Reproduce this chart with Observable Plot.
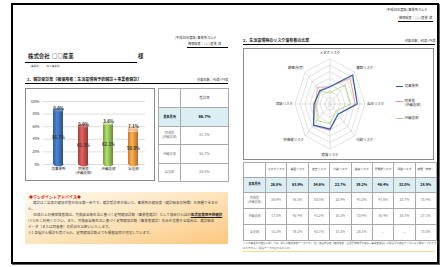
<!DOCTYPE html>
<html><head><meta charset="utf-8">
<script src="https://cdn.jsdelivr.net/npm/d3@7"></script>
<script src="https://cdn.jsdelivr.net/npm/@observablehq/plot@0.6"></script>
<style>
body{margin:0;width:440px;height:267px;position:relative;overflow:hidden;background:#fff;font-family:"Noto Sans CJK JP","Noto Sans",sans-serif;color:#222;}
.a{position:absolute;white-space:nowrap;line-height:1;}
#frame{position:absolute;left:11px;top:3px;width:424px;height:257px;border:2px solid #000;box-shadow:1px 1px 0 #666;}
table{border-collapse:collapse;position:absolute;table-layout:fixed;}
td{border:1px solid #aaa;padding:0;text-align:center;vertical-align:middle;overflow:hidden;line-height:1.25;color:#777;white-space:pre;}
tr.hl td{background:#dbeef4;color:#111;font-weight:bold;}
.box{position:absolute;border:1px solid #8a8a8a;}
.leg{position:absolute;font-size:3.5px;line-height:1.2;white-space:pre;color:#333;}
.legline{position:absolute;height:0;}
</style></head><body>
<div id="frame"></div>

<!-- right page header -->
<div class="a" style="left:386px;top:8px;font-size:3.2px;color:#333">[平成30年度版]&nbsp;事業所カルテ</div>
<div class="a" style="left:399px;top:16.2px;font-size:3.2px;color:#333">被保険者：○○産業&nbsp;&nbsp;様</div>
<div class="a" style="left:398px;top:20.5px;width:35px;border-top:0.8px solid #000"></div>

<!-- left page header -->
<div class="a" style="left:175px;top:36px;font-size:3.2px;color:#333">[平成30年度版]&nbsp;事業所カルテ</div>
<div class="a" style="left:188px;top:42.4px;font-size:3.2px;color:#333">被保険者：○○産業&nbsp;&nbsp;様</div>
<div class="a" style="left:187px;top:46.6px;width:41px;border-top:0.8px solid #000"></div>

<div class="a" style="left:28px;top:54px;font-size:5.4px;font-weight:bold">株式会社&nbsp;&nbsp;○○産業</div>
<div class="a" style="left:138px;top:53.5px;font-size:5.4px;font-weight:bold">様</div>
<div class="a" style="left:25px;top:61.5px;width:112px;border-top:1.2px solid #000"></div>
<div class="a" style="left:31px;top:64.8px;font-size:2.6px;color:#555">事業所：○○加入事業所</div>

<div class="a" style="left:27px;top:77px;font-size:4px;font-weight:bold">1．健診受診率【被保険者：生活習慣病予防健診＋事業者健診】</div>
<div class="a" style="left:197px;top:77.5px;font-size:3.2px;color:#333">対象年齢：40歳~74歳</div>
<div class="a" style="left:25px;top:83.3px;width:203px;border-top:1.6px solid #000"></div>

<div class="box" id="barbox" style="left:25px;top:88px;width:128px;height:91px;"></div>

<!-- advice -->
<div id="advice" style="position:absolute;left:25px;top:192px;width:203px;height:52px;overflow:hidden;background:linear-gradient(to bottom right,#fffaf1 0%,#fde7c2 45%,#fbc77e 100%);">
<div class="a" style="left:4px;top:3.2px;font-size:4px;font-weight:bold;color:#e3120b">◆ワンポイントアドバイス◆</div>
<div class="a" style="left:8px;top:9.3px;font-size:3.5px;color:#444">健診はご自身の健康状態を知る第一歩です。健診受診率が低いと、事業所の健康度（健診結果の特徴）を把握できませ</div>
<div class="a" style="left:3px;top:14.7px;font-size:3.5px;color:#444">ん。</div>
<div class="a" style="left:8px;top:21.2px;font-size:3.5px;color:#444">40歳以上の被保険者様は、労働安全衛生法に基づく定期健康診断（事業者健診）として協会けんぽの<b style="text-decoration:underline;color:#222">生活習慣病予防健診</b></div>
<div class="a" style="left:3px;top:27.2px;font-size:3.5px;color:#444">(※1)をご利用ください。また、労働安全衛生法に基づく定期健康診断（事業者健診）のみを実施する場合は、健診結果</div>
<div class="a" style="left:3px;top:33.2px;font-size:3.5px;color:#444">データ（または同意書）の提出をお願いいたします。</div>
<div class="a" style="left:3px;top:39.2px;font-size:3.5px;color:#444">※1 各種がん検診も受けられ、定期健康診断よりも検査項目が充実しています。</div>
</div>

<!-- right page -->
<div class="a" style="left:243px;top:38px;font-size:4px;font-weight:bold">2．生活習慣病のリスク保有者の比率</div>
<div class="a" style="left:405px;top:38.5px;font-size:3.1px;color:#333">対象年齢：40歳~74歳</div>
<div class="a" style="left:243px;top:44.3px;width:192px;border-top:1.6px solid #000"></div>
<div class="box" id="radarbox" style="left:243px;top:48px;width:189px;height:110px;"></div>

<div class="a" style="left:243px;top:242px;font-size:2.5px;color:#666">※この事業所の数値に関しては、加入の被保険者データです。（注）健診受診者【被保険者：生活習慣病予防健診＋事業者健診】の問診票の健診データにより算出しております</div>
<div class="a" style="left:243px;top:246.6px;font-size:2.5px;color:#666">ありません。（問診データの値があるもの）</div>
<div class="a" style="left:243px;top:251px;width:192px;border-top:1px solid #fcd58f"></div>

<script>
// ---------- data ----------
const categories = ["貴事業所", "同業態\n(沖縄支部)", "沖縄支部", "全支部"];
const baseRate = [86.7, 61.3, 62.1, 50.9];
const addRate = [0.0, 0.0, 3.6, 7.1];
const totalRate = [86.7, 61.3, 65.7, 58.0];
const barColors = ["#3d6eb5", "#c0504d", "#93b953", "#f7933f"];
const yTicks = [0, 20, 40, 60, 80, 100];

const riskAxes = ["メタボリスク", "腹囲リスク", "血圧リスク", "代謝リスク", "脂質リスク", "肝機能リスク", "尿酸リスク", "喫煙(参考)"];
const riskHeaders = ["メタボリスク", "腹囲リスク", "血圧リスク", "代謝リスク", "脂質リスク", "肝機能リスク", "尿酸リスク", "喫煙（参考）"];
const riskOffice = [26.8, 63.9, 54.6, 22.7, 39.2, 46.4, 32.0, 28.9];
const riskSame = [26.9, 56.8, 50.5, 22.4, 41.0, 47.8, 28.7, 35.9];
const riskOkinawa = [17.5, 42.4, 41.2, 16.2, 30.9, 36.4, 26.3, 27.1];
const riskAll = [15.2, 36.2, 42.1, 15.2, 26.1, null, null, 33.0];
const rowLabels = ["貴事業所", "同業態\n(沖縄支部)", "沖縄支部", "全支部"];
const seriesNames = ["貴事業所", "同業態\n(沖縄支部)", "沖縄支部"];
const seriesColors = ["#2c5ca8", "#e98b8e", "#a9d16e"];
const riskMax = 70;
const ringLevels = [10, 20, 30, 40, 50, 60, 70];

const FONT = '"Noto Sans CJK JP","Noto Sans",sans-serif';

// ---------- gradients for cylinders ----------
const lighten = (c, t) => d3.interpolateRgb(c, "#fff")(t);
const defsSvg = `<svg width="0" height="0" style="position:absolute"><defs>${barColors.map((c, i) => {
  const k = d3.color(c), t = d3.color(lighten(c, 0.45));
  return `<linearGradient id="gb${i}" x1="0" x2="1" y1="0" y2="0">
    <stop offset="0" stop-color="${k.darker(0.6)}"/><stop offset="0.38" stop-color="${k.brighter(0.55)}"/><stop offset="1" stop-color="${k.darker(0.9)}"/></linearGradient>
    <linearGradient id="gt${i}" x1="0" x2="1" y1="0" y2="0">
    <stop offset="0" stop-color="${t.darker(0.3)}"/><stop offset="0.38" stop-color="${t.brighter(0.3)}"/><stop offset="1" stop-color="${t.darker(0.45)}"/></linearGradient>`;
}).join("")}</defs></svg>`;
document.body.insertAdjacentHTML("beforeend", defsSvg);

const rows = categories.map((c, i) => ({
  cat: c, base: baseRate[i], add: addRate[i], total: baseRate[i] + addRate[i],
  gBase: `url(#gb${i})`, gTop: `url(#gt${i})`,
  cap: addRate[i] > 0 ? lighten(barColors[i], 0.6) : lighten(barColors[i], 0.25),
  capStroke: d3.color(barColors[i]).darker(0.3).toString()
}));

const ellipse = {
  draw(ctx, size) {
    const r = Math.sqrt(size / Math.PI), ry = r * 0.36, k = 0.5523;
    ctx.moveTo(r, 0);
    ctx.bezierCurveTo(r, ry * k, r * k, ry, 0, ry);
    ctx.bezierCurveTo(-r * k, ry, -r, ry * k, -r, 0);
    ctx.bezierCurveTo(-r, -ry * k, -r * k, -ry, 0, -ry);
    ctx.bezierCurveTo(r * k, -ry, r, -ry * k, r, 0);
    ctx.closePath();
  }
};

const bar = Plot.plot({
  width: 126, height: 89,
  marginLeft: 16, marginRight: 8, marginTop: 10, marginBottom: 15,
  style: {fontFamily: FONT, fontSize: "4px", background: "transparent", overflow: "visible"},
  x: {domain: categories, range: [21, 116], paddingInner: 0.6, paddingOuter: 0.2, label: null, axis: null},
  y: {domain: [0, 100], range: [74, 11], label: null, axis: null},
  color: {type: "identity"},
  marks: [
    Plot.gridY(yTicks, {stroke: "#c8c8c8", strokeOpacity: 1, strokeWidth: 0.6}),
    Plot.dot(rows, {x: "cat", y: 0, r: 5, symbol: ellipse, fill: "gBase"}),
    Plot.barY(rows, {x: "cat", y1: 0, y2: "base", fill: "gBase"}),
    Plot.barY(rows, {x: "cat", y1: "base", y2: "total", fill: "gTop"}),
    Plot.dot(rows, {x: "cat", y: "total", r: 5, symbol: ellipse, fill: "cap", stroke: "capStroke", strokeWidth: 0.3}),
    Plot.text(rows, {x: "cat", y: "total", text: d => d.add.toFixed(1) + "%", dy: -1.5, fontSize: 4.2, fontWeight: "bold", fill: "#333"}),
    Plot.text(rows, {x: "cat", y: d => d.base / 2, text: d => d.base.toFixed(1) + "%", fontSize: 4.2, fontWeight: "bold", fill: "#333"}),
    Plot.axisY({ticks: yTicks, tickFormat: d => d + "%", tickSize: 0, tickPadding: 4, fontSize: 3.4, fill: "#333", label: null}),
    Plot.axisX({tickSize: 0, tickPadding: 3, fontSize: 3.5, fill: "#222", label: null, lineHeight: 1.15})
  ]
});
bar.style.position = "absolute"; bar.style.left = "1px"; bar.style.top = "1px";
document.getElementById("barbox").appendChild(bar);

// ---------- left table ----------
(function () {
  let h = `<table style="left:158px;top:88px;width:70px;height:93px;font-size:3.5px;">
  <colgroup><col style="width:22px"><col style="width:48px"></colgroup>
  <tr style="height:19px"><td></td><td style="color:#444">受診率</td></tr>`;
  rowLabels.forEach((l, i) => {
    h += `<tr class="${i === 0 ? "hl" : ""}" style="height:${i % 2 ? 18.5 : 18.5}px"><td style="font-size:3.2px">${l}</td><td style="font-size:${i === 0 ? 4 : 3.6}px">${totalRate[i].toFixed(1)}%</td></tr>`;
  });
  h += `</table>`;
  document.body.insertAdjacentHTML("beforeend", h);
})();

// ---------- radar ----------
const n = riskAxes.length;
const ang = i => 2 * Math.PI * i / n;
const px = (v, i) => v / riskMax * Math.sin(ang(i));
const py = (v, i) => v / riskMax * Math.cos(ang(i));
const ringData = ringLevels.flatMap(l => riskAxes.map((a, i) => ({l, x: px(l, i), y: py(l, i)})));
const spokes = riskAxes.map((a, i) => ({x: px(riskMax, i), y: py(riskMax, i)}));
const seriesVals = [riskOffice, riskSame, riskOkinawa];
const pts = seriesNames.flatMap((s, k) => seriesVals[k].map((v, i) => ({s, x: px(v, i), y: py(v, i)})));
const labels = riskAxes.map((a, i) => {
  const s = Math.sin(ang(i)), c = Math.cos(ang(i));
  return {a, x: s * 1.06, y: c * 1.13, side: Math.abs(s) < 0.01 ? 0 : Math.sign(s)};
});
const ser = name => pts.filter(d => d.s === name);
const radar = Plot.plot({
  width: 188, height: 109, margin: 0,
  style: {fontFamily: FONT, background: "transparent", overflow: "visible"},
  x: {domain: [-1, 1], range: [50.5, 120.5], axis: null},
  y: {domain: [-1, 1], range: [99.5, 9.5], axis: null},
  color: {domain: seriesNames, range: seriesColors},
  marks: [
    Plot.line(ringData, {x: "x", y: "y", z: "l", curve: "linear-closed", stroke: "#cdcdcd", strokeWidth: 0.6}),
    Plot.link(spokes, {x1: 0, y1: 0, x2: "x", y2: "y", stroke: "#cdcdcd", strokeWidth: 0.6}),
    Plot.line(ser(seriesNames[2]), {x: "x", y: "y", stroke: "s", curve: "linear-closed", strokeWidth: 0.8}),
    Plot.line(ser(seriesNames[1]), {x: "x", y: "y", stroke: "s", curve: "linear-closed", strokeWidth: 0.8}),
    Plot.line(ser(seriesNames[0]), {x: "x", y: "y", stroke: "s", curve: "linear-closed", strokeWidth: 1.2}),
    Plot.text(labels.filter(d => d.side === 0), {x: "x", y: "y", text: "a", fontSize: 3.4, fill: "#333", textAnchor: "middle"}),
    Plot.text(labels.filter(d => d.side > 0), {x: "x", y: "y", text: "a", fontSize: 3.4, fill: "#333", textAnchor: "start"}),
    Plot.text(labels.filter(d => d.side < 0), {x: "x", y: "y", text: "a", fontSize: 3.4, fill: "#333", textAnchor: "end"})
  ]
});
radar.style.position = "absolute"; radar.style.left = "0px"; radar.style.top = "0px";
document.getElementById("radarbox").appendChild(radar);

// legend
(function () {
  const ys = [86, 101, 118];
  seriesNames.forEach((s, k) => {
    document.body.insertAdjacentHTML("beforeend",
      `<div class="legline" style="left:396px;top:${ys[k] - 0.5}px;width:7px;border-top:${k === 0 ? 1.2 : 0.8}px solid ${seriesColors[k]}"></div>
       <div class="leg" style="left:404.5px;top:${ys[k] - 2.2}px">${s}</div>`);
  });
})();

// ---------- right table ----------
(function () {
  const fmt = v => v == null ? "—" : v.toFixed(1) + "%";
  const all = [riskOffice, riskSame, riskOkinawa, riskAll];
  let h = `<table style="left:243px;top:162px;width:193px;height:78px;font-size:3.3px;border:1px solid #888">
  <colgroup><col style="width:22px">${riskHeaders.map(() => `<col style="width:21.375px">`).join("")}</colgroup>
  <tr style="height:15px"><td></td>${riskHeaders.map(t => `<td style="font-size:2.8px;color:#444">${t}</td>`).join("")}</tr>`;
  rowLabels.forEach((l, r) => {
    h += `<tr class="${r === 0 ? "hl" : ""}" style="height:${r === 0 ? 15 : 16}px"><td style="font-size:3px">${l}</td>${all[r].map(v => `<td style="font-size:${r === 0 ? 3.6 : 3.4}px">${fmt(v)}</td>`).join("")}</tr>`;
  });
  h += `</table>`;
  document.body.insertAdjacentHTML("beforeend", h);
})();
</script>
</body></html>
